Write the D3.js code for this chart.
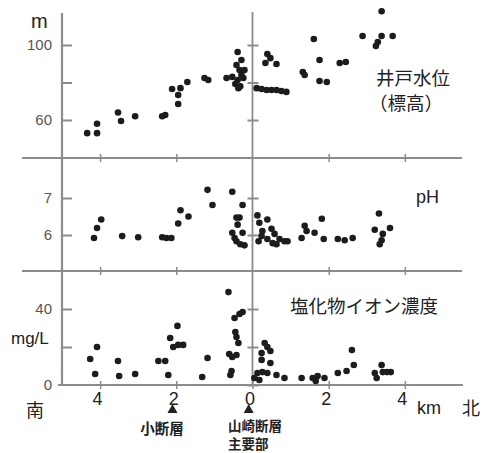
<!DOCTYPE html>
<html>
<head>
<meta charset="utf-8">
<script src="https://cdn.jsdelivr.net/npm/d3@7"></script>
<style>
  body { margin: 0; background: #fff; }
  svg { display: block; }
  .jp { font-family: "Noto Sans CJK JP", sans-serif; }
  .num { font-family: "Liberation Sans", Arial, sans-serif; }
</style>
</head>
<body>
<div id="chart"></div>
<script>
// distance in km, south negative, north positive
const levelPts = [
  [-4.34, 53], [-4.08, 58], [-4.08, 53], [-3.53, 64], [-3.45, 59.5], [-3.08, 62],
  [-2.37, 62], [-2.29, 62.7], [-2.11, 76.5], [-1.89, 77], [-1.95, 73.3], [-1.95, 68.5],
  [-1.71, 80.3], [-1.26, 82.4], [-1.16, 81.3], [-0.68, 82.4],
  [-0.39, 96.3], [-0.29, 92], [-0.42, 89.3], [-0.53, 83], [-0.39, 81.3], [-0.29, 84],
  [-0.45, 79.2], [-0.32, 78], [-0.24, 82.4], [-0.37, 77], [-0.21, 86.7], [-0.34, 86.7],
  [0.39, 95.2], [0.47, 93], [0.34, 90.4], [0.63, 89.9],
  [0.11, 77], [0.24, 76.5], [0.37, 76], [0.5, 76], [0.63, 76], [0.76, 75.5], [0.89, 75],
  [1.61, 103.2], [1.76, 92], [1.32, 85.6], [1.37, 84], [1.76, 80.8], [1.95, 80.3],
  [2.29, 90.4], [2.45, 90.9], [2.89, 104.8], [3.39, 118], [3.39, 104.8], [3.68, 104.8],
  [3.24, 99.5], [3.29, 101.6]
];

const phPts = [
  [-4.16, 5.92], [-4.08, 6.19], [-3.97, 6.42], [-3.42, 5.97], [-3.0, 5.94],
  [-2.37, 5.94], [-2.26, 5.92], [-2.13, 5.92], [-1.95, 6.31], [-1.89, 6.67], [-1.68, 6.5],
  [-1.18, 7.22], [-1.05, 6.81], [-0.53, 7.17], [-0.26, 6.81], [-0.42, 6.47], [-0.34, 6.47],
  [-0.39, 6.28], [-0.53, 6.06], [-0.26, 6.06], [-0.42, 5.83], [-0.32, 5.75], [-0.21, 5.72],
  [-0.47, 5.92],
  [0.13, 6.53], [0.18, 6.33], [0.39, 6.42], [0.24, 5.97], [0.16, 5.83], [0.26, 6.11],
  [0.5, 6.17], [0.58, 6.03], [0.39, 5.89], [0.53, 5.78], [0.71, 5.89], [0.84, 5.83],
  [0.92, 5.83], [0.63, 5.75], [1.37, 6.25], [1.42, 6.11], [1.29, 5.92], [1.63, 6.06],
  [1.82, 6.44], [1.87, 5.89], [2.24, 5.89], [2.42, 5.86], [2.63, 5.92],
  [3.32, 6.58], [3.21, 6.14], [3.61, 6.19], [3.42, 6.03], [3.39, 5.86], [3.34, 5.75]
];

const clPts = [
  [-4.26, 13.7], [-4.13, 5.8], [-4.08, 20], [-3.53, 12.6], [-3.5, 4.7], [-3.08, 5.8],
  [-2.47, 12.6], [-2.29, 12.6], [-2.21, 5.3], [-2.16, 24.7], [-1.97, 31.1],
  [-2.08, 20], [-1.95, 21.1], [-1.82, 21.1], [-1.32, 4.2], [-1.18, 14.2],
  [-0.63, 48.9], [-0.47, 35.3], [-0.34, 37.4], [-0.26, 38.4], [-0.45, 27.9], [-0.42, 25.3],
  [-0.37, 22.1], [-0.61, 16.3], [-0.53, 14.7], [-0.42, 15.8], [-0.55, 7.4], [-0.58, 5.3],
  [0.32, 22.1], [0.39, 20], [0.47, 17.9], [0.24, 16.8], [0.24, 13.2], [0.47, 11.6],
  [0.05, 3.7], [0.13, 6.3], [0.26, 6.8], [0.39, 6.3], [0.18, 2.6], [0.63, 5.3],
  [0.84, 3.7], [1.29, 3.7], [1.58, 3.7], [1.66, 2.1], [1.71, 4.7], [1.89, 3.7],
  [2.24, 6.3], [2.47, 7.4], [2.66, 10.5], [2.61, 18.4],
  [3.39, 10.5], [3.21, 6.3], [3.26, 3.7], [3.42, 6.8], [3.53, 6.8], [3.63, 6.8]
];

const xTicks = [-4, -2, 0, 2, 4];
const levelTicks = [60, 80, 100];
const phTicks = [6, 7];
const clTicks = [0, 20, 40];

const W = 487, H = 453;
const svg = d3.select("#chart").append("svg").attr("width", W).attr("height", H);

const x = d3.scaleLinear().domain([-5, 5.5]).range([62, 462]);
const yLevel = d3.scaleLinear().domain([40, 120]).range([157.5, 7.5]);
const yPh = d3.scaleLinear().domain([5, 8]).range([272, 161]);
const yCl = d3.scaleLinear().domain([0, 60]).range([385, 271]);

const lineCol = "#8c8c8c";
const dotCol = "#1c1c1c";

// frame lines
const hLines = [158, 271];
hLines.forEach(yy => {
  svg.append("line").attr("x1", 22).attr("x2", 462).attr("y1", yy).attr("y2", yy)
    .attr("stroke", lineCol).attr("stroke-width", 2);
});
svg.append("line").attr("x1", 58).attr("x2", 463).attr("y1", 385).attr("y2", 385)
  .attr("stroke", lineCol).attr("stroke-width", 2.2);
svg.append("line").attr("x1", x(-5)).attr("x2", x(-5)).attr("y1", 13).attr("y2", 386)
  .attr("stroke", lineCol).attr("stroke-width", 2.2);
svg.append("line").attr("x1", x(0)).attr("x2", x(0)).attr("y1", 12).attr("y2", 386)
  .attr("stroke", lineCol).attr("stroke-width", 1.8);

// x ticks on separators and bottom axis
[158, 271].forEach(yy => {
  const ax = svg.append("g").attr("transform", `translate(0,${yy})`)
    .call(d3.axisBottom(x).tickValues(xTicks.filter(d => d !== 0)).tickSize(4).tickFormat(""));
  ax.select(".domain").remove();
  ax.selectAll(".tick line").attr("y1", -4).attr("stroke", lineCol).attr("stroke-width", 1.5);
});
const xAx = svg.append("g").attr("transform", "translate(0,385)")
  .call(d3.axisBottom(x).tickValues(xTicks).tickSize(4).tickPadding(3)
    .tickFormat(d => Math.abs(d)));
xAx.select(".domain").remove();
xAx.selectAll(".tick line").attr("y1", -4).attr("stroke", lineCol).attr("stroke-width", 1.5);
xAx.selectAll(".tick text").attr("class", "num").attr("font-size", 18)
  .attr("fill", "#222").attr("dx", -3);

// y axes, left side ticks pointing inward
function yAxis(scale, ticks, fmt) {
  const g = svg.append("g").attr("transform", `translate(${x(-5)},0)`)
    .call(d3.axisLeft(scale).tickValues(ticks).tickSize(-10).tickPadding(10).tickFormat(fmt));
  g.select(".domain").remove();
  g.selectAll(".tick line").attr("stroke", lineCol).attr("stroke-width", 2);
  g.selectAll(".tick text").attr("class", "num").attr("font-size", 15).attr("fill", "#555");
  // center axis crossing ticks
  const c = svg.append("g").attr("transform", `translate(${x(0)},0)`)
    .call(d3.axisLeft(scale).tickValues(ticks).tickSize(5).tickFormat(""));
  c.select(".domain").remove();
  c.selectAll(".tick line").attr("x2", 6).attr("x1", -5).attr("stroke", lineCol).attr("stroke-width", 2);
  return g;
}
yAxis(yLevel, levelTicks, d => d === 80 ? "" : d);
yAxis(yPh, phTicks, d => d);
const clAx = yAxis(yCl, clTicks, d => d === 20 ? "" : d);
clAx.selectAll(".tick line").filter(d => d === 0).remove();

// dots
function dots(data, yScale) {
  svg.append("g").selectAll("circle").data(data).join("circle")
    .attr("cx", d => x(d[0]))
    .attr("cy", d => yScale(d[1]))
    .attr("r", 3.3)
    .attr("fill", dotCol);
}
dots(levelPts, yLevel);
dots(phPts, yPh);
dots(clPts, yCl);

// labels
function label(txt, px, py, size, cls, opts = {}) {
  return svg.append("text").attr("x", px).attr("y", py).attr("class", cls)
    .attr("font-size", size).attr("fill", opts.fill || "#222")
    .attr("font-weight", opts.weight || "normal")
    .attr("text-anchor", opts.anchor || "start")
    .text(txt);
}
label("m", 31, 28, 20, "num");
label("mg/L", 11, 344, 17, "num");
label("井戸水位", 376, 85, 18.5, "jp");
label("（標高）", 369, 110, 18.5, "jp");
label("pH", 416, 203, 18, "num");
label("塩化物イオン濃度", 290, 313, 18.5, "jp");
label("km", 417, 414, 18, "num");
label("北", 462, 415, 18, "jp");
label("南", 26, 417, 18, "jp");

const markers = [-2.1, -0.1];
svg.append("g").selectAll("path").data(markers).join("path")
  .attr("transform", d => `translate(${x(d)},409)`)
  .attr("d", "M-5,4L0,-5L5,4Z")
  .attr("fill", "#222");

label("小断層", 162, 434, 14.5, "jp", { weight: "bold", anchor: "middle" });
label("山崎断層", 228, 431, 13.5, "jp", { weight: "bold" });
label("主要部", 228, 449, 13.5, "jp", { weight: "bold" });
</script>
</body>
</html>
